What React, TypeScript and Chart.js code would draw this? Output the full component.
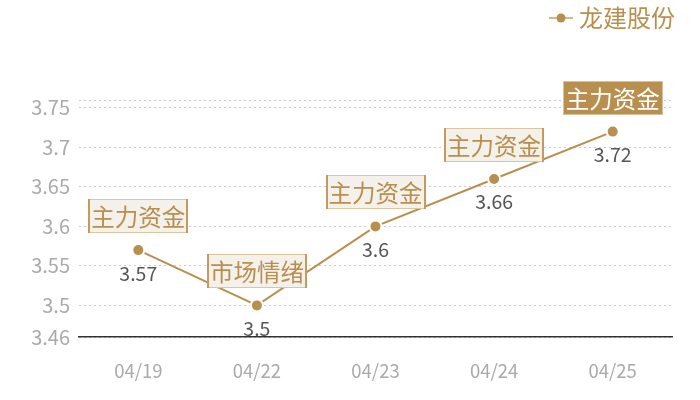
import React, { useEffect, useRef } from "react";
import { Chart, registerables } from "chart.js";

Chart.register(...registerables);

const categories = ["04/19", "04/22", "04/23", "04/24", "04/25"];
const seriesName = "龙建股份";
const prices = [3.57, 3.5, 3.6, 3.66, 3.72];
const tags = ["主力资金", "市场情绪", "主力资金", "主力资金", "主力资金"];
const highlighted = [false, false, false, false, true];
const yTicks = [3.46, 3.5, 3.55, 3.6, 3.65, 3.7, 3.75, 3.76];
const yHiddenLabels = [3.76];

const TAN = "#b88f4f";
const FONT = "'Noto Sans CJK SC', 'Noto Sans', sans-serif";

const annotatePlugin = {
  id: "annotate",
  afterDatasetsDraw(chart: any) {
    const ctx = chart.ctx;
    const meta = chart.getDatasetMeta(0);
    ctx.save();
    meta.data.forEach((pt: any, i: number) => {
      const x = pt.x;
      const y = pt.y;
      // value label below point
      ctx.font = `19.5px ${FONT}`;
      ctx.fillStyle = "#555555";
      ctx.textAlign = "center";
      ctx.textBaseline = "middle";
      ctx.fillText(String(prices[i]), x, y + 23);
      // tag box above point
      ctx.font = `23.5px ${FONT}`;
      const tw = ctx.measureText(tags[i]).width;
      const w = Math.round(tw + 6);
      const h = 34;
      const bx = Math.round(x - w / 2);
      const by = Math.round(y - 17 - h);
      if (highlighted[i]) {
        ctx.fillStyle = TAN;
        ctx.fillRect(bx, by, w, h);
        ctx.strokeStyle = "#d9c29b";
        ctx.lineWidth = 1;
        ctx.strokeRect(bx + 0.5, by + 0.5, w - 1, h - 1);
        ctx.fillStyle = "#ffffff";
      } else {
        ctx.fillStyle = "#f4f0ea";
        ctx.fillRect(bx, by, w, h);
        ctx.strokeStyle = "#dcc6a2";
        ctx.lineWidth = 1;
        ctx.strokeRect(bx + 0.5, by + 0.5, w - 1, h - 1);
        ctx.fillStyle = "#c49b5f";
        ctx.fillRect(bx, by, 2, h);
        ctx.fillRect(bx + w - 2, by, 2, h);
        ctx.fillStyle = TAN;
      }
      ctx.textAlign = "center";
      ctx.textBaseline = "middle";
      ctx.fillText(tags[i], x, by + h / 2 + 1);
    });
    // legend
    ctx.strokeStyle = "#d2b88e";
    ctx.lineWidth = 2;
    ctx.beginPath();
    ctx.moveTo(549, 18);
    ctx.lineTo(573, 18);
    ctx.stroke();
    ctx.fillStyle = TAN;
    ctx.beginPath();
    ctx.arc(561, 18, 4.5, 0, Math.PI * 2);
    ctx.fill();
    ctx.font = `24px ${FONT}`;
    ctx.textAlign = "left";
    ctx.textBaseline = "middle";
    ctx.fillText(seriesName, 579, 18);
    ctx.restore();
  },
};

export default function App() {
  const ref = useRef<HTMLCanvasElement | null>(null);
  useEffect(() => {
    document.body.style.margin = "0";
    const chart = new Chart(ref.current as HTMLCanvasElement, {
      type: "line",
      data: {
        labels: categories,
        datasets: [
          {
            label: seriesName,
            data: prices,
            borderColor: TAN,
            borderWidth: 2,
            backgroundColor: TAN,
            pointBackgroundColor: TAN,
            pointBorderColor: "#ffffff",
            pointBorderWidth: 2,
            pointRadius: 6,
            tension: 0,
          },
        ],
      },
      options: {
        animation: false,
        responsive: false,
        maintainAspectRatio: false,
        layout: { padding: { top: 100, right: 28, left: 0, bottom: 0 } },
        plugins: { legend: { display: false }, tooltip: { enabled: false } },
        scales: {
          x: {
            offset: true,
            grid: { display: false, drawTicks: false },
            border: { display: true, color: "#333333", width: 1.5 },
            ticks: { color: "#aaaaaa", font: { size: 18.5, family: FONT }, padding: 23 },
            afterFit(axis: any) {
              axis.height = 63;
            },
          },
          y: {
            min: 3.46,
            max: 3.76,
            afterBuildTicks(axis: any) {
              axis.ticks = yTicks.map((v) => ({ value: v }));
            },
            afterFit(axis: any) {
              axis.width = 79;
            },
            grid: {
              color: "#cccccc",
              drawTicks: false,
              lineWidth: 1,
            },
            border: { display: false, dash: [2, 3] },
            ticks: {
              color: "#aaaaaa",
              font: { size: 20, family: FONT },
              padding: 9,
              callback(v: any) {
                const n = +Number(v).toFixed(2);
                return yHiddenLabels.includes(n) ? "" : String(n);
              },
            },
          },
        },
      },
      plugins: [annotatePlugin],
    });
    return () => chart.destroy();
  }, []);
  return (
    <div style={{ width: 700, height: 400 }}>
      <canvas ref={ref} width={700} height={400} style={{ width: 700, height: 400 }} />
    </div>
  );
}
